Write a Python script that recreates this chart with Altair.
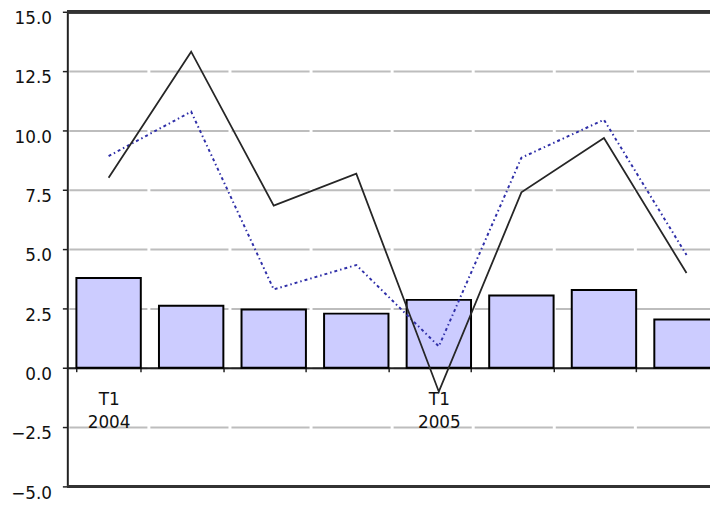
import json
import altair as alt

categories = ["T1 2004", "T2 2004", "T3 2004", "T4 2004",
              "T1 2005", "T2 2005", "T3 2005", "T4 2005"]
bar_values = [3.78, 2.61, 2.45, 2.28, 2.86, 3.04, 3.28, 2.03]
black_line = [8.01, 13.32, 6.83, 8.18, -1.01, 7.39, 9.68, 3.99]
blue_line = [8.92, 10.79, 3.30, 4.33, 0.90, 8.85, 10.45, 4.75]
y_ticks = [-5, -2.5, 0, 2.5, 5, 7.5, 10, 12.5, 15]

records = [
    {"idx": i, "cat": c, "bar": b, "black": k, "blue": u}
    for i, (c, b, k, u) in enumerate(zip(categories, bar_values, black_line, blue_line))
]
data = alt.Data(values=records)

# x labels: only the first quarter of each year, on two lines
label_lists = [c.split(" ") if c.startswith("T1") else "" for c in categories]
label_expr = json.dumps(label_lists) + "[datum.value]"

FONT = "DejaVu Sans"

x_enc = alt.X(
    "idx:O", title=None,
    scale=alt.Scale(paddingInner=0.22, paddingOuter=0.11),
    axis=alt.Axis(
        offset=-120, tickBand="extent", tickSize=4, tickColor="#222",
        tickWidth=1.5, domainColor="#222", domainWidth=2, labelAngle=0,
        labelExpr=label_expr,
        labelFontSize=17, labelFont=FONT, labelPadding=20, labelLineHeight=23,
        labelColor="#111", grid=False,
    ),
)

y_scale = alt.Scale(domain=[-5, 15], nice=False, zero=False)
y_axis = alt.Axis(
    values=y_ticks, format=".1f", tickSize=5, tickColor="#222", tickWidth=1.5,
    domainColor="#222", domainWidth=2, labelBaseline="top", labelFontSize=17,
    labelFont=FONT, labelPadding=11, labelColor="#111", labelOffset=-1,
    gridColor="#bdbdbd", gridWidth=2, gridDash=[79, 3], gridDashOffset=80.5,
)

base = alt.Chart(data)

bars = base.mark_bar(fill="#ccccff", stroke="#000", strokeWidth=2).encode(
    x=x_enc, y=alt.Y("bar:Q", scale=y_scale, axis=y_axis, title=None)
)
blue = base.mark_line(color="#2f2fa8", strokeWidth=2, strokeDash=[3, 3, 1.5, 3]).encode(
    x=alt.X("idx:O"), y=alt.Y("blue:Q")
)
black = base.mark_line(color="#262626", strokeWidth=1.8).encode(
    x=alt.X("idx:O"), y=alt.Y("black:Q")
)
top_rule = base.mark_rule(color="#333", strokeWidth=3).encode(y=alt.datum(15))
bottom_rule = base.mark_rule(color="#333", strokeWidth=2.5).encode(y=alt.datum(-5))

chart = alt.layer(bars, blue, black, top_rule, bottom_rule).properties(
    width=668, height=480,
    padding={"left": 60, "top": 1, "right": -18, "bottom": 17},
    autosize=alt.AutoSizeParams(type="none"),
).configure_view(strokeWidth=0)

chart.save("out.html", embed_options={"renderer": "svg", "actions": False})
